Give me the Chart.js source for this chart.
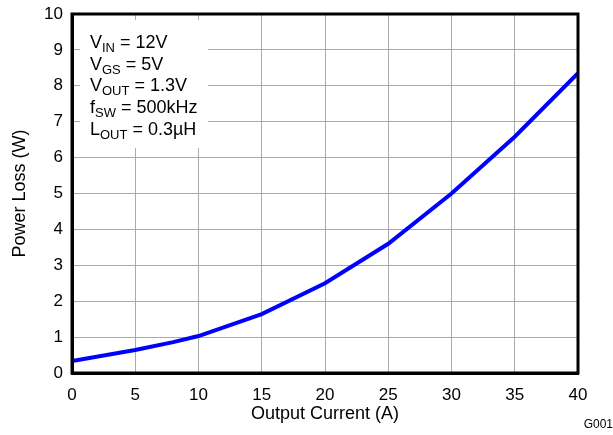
<!DOCTYPE html>
<html>
<head>
<meta charset="utf-8">
<script src="https://cdn.jsdelivr.net/npm/chart.js@4/dist/chart.umd.min.js"></script>
<style>
  body { margin: 0; background: #fff; }
  #wrap { width: 613px; height: 435px; }
</style>
</head>
<body>
<div id="wrap"><canvas id="loss-chart" width="613" height="435"></canvas></div>
<script>
// Data
const outputCurrent = [0, 5, 8, 10, 15, 20, 25, 30, 35, 40];
const powerLoss = [0.33, 0.64, 0.86, 1.03, 1.64, 2.5, 3.6, 5.0, 6.58, 8.35];
const xTicks = { min: 0, max: 40, step: 5 };
const yTicks = { min: 0, max: 10, step: 1 };

// Conditions box: [main, subscript, rest]
const conditions = [
    ["V", "IN", " = 12V"],
    ["V", "GS", " = 5V"],
    ["V", "OUT", " = 1.3V"],
    ["f", "SW", " = 500kHz"],
    ["L", "OUT", " = 0.3\u00B5H"]
];

const FONT = '"Liberation Sans", Arial, sans-serif';

// Frame, conditions box and graph id
const extras = {
    id: "extras",
    afterDatasetsDraw(chart) {
        const ctx = chart.ctx;
        const a = chart.chartArea;
        ctx.save();
        // white box behind the conditions
        ctx.fillStyle = "#fff";
        ctx.fillRect(a.left + 8, a.top + 6, 128, 128);
        ctx.fillStyle = "#000";
        ctx.textBaseline = "alphabetic";
        let y = a.top + 34;
        conditions.forEach(function(c) {
            let x = a.left + 18;
            ctx.font = "18px " + FONT;
            ctx.fillText(c[0], x, y);
            x += ctx.measureText(c[0]).width;
            ctx.font = "13px " + FONT;
            ctx.fillText(c[1], x, y + 4);
            x += ctx.measureText(c[1]).width;
            ctx.font = "18px " + FONT;
            ctx.fillText(c[2], x, y);
            y += 21.7;
        });
        // frame
        ctx.strokeStyle = "#000";
        ctx.lineWidth = 3;
        ctx.strokeRect(a.left, a.top, a.right - a.left, a.bottom - a.top);
        // graph id
        ctx.font = "12px " + FONT;
        ctx.textAlign = "right";
        ctx.fillText("G001", 613, 428);
        ctx.restore();
    }
};

const ctx = document.getElementById("loss-chart").getContext("2d");
const lossChart = new Chart(ctx, {
    type: "line",
    data: {
        datasets: [{
            label: "Power Loss",
            data: outputCurrent.map((c, i) => ({ x: c, y: powerLoss[i] })),
            borderColor: "#0000ff",
            borderWidth: 4,
            pointRadius: 0,
            tension: 0,
            fill: false
        }]
    },
    options: {
        responsive: false,
        animation: false,
        layout: { padding: { top: 14, right: 35, left: 0, bottom: 0 } },
        plugins: {
            legend: { display: false },
            tooltip: { enabled: false }
        },
        scales: {
            x: {
                type: "linear",
                min: xTicks.min,
                max: xTicks.max,
                afterFit(scale) {
                    scale.height = 62;
                    scale.paddingLeft = 0;
                    scale.paddingRight = 0;
                },
                ticks: {
                    stepSize: xTicks.step,
                    color: "#000",
                    padding: 12,
                    maxRotation: 0,
                    font: { family: FONT, size: 17 }
                },
                grid: { color: "#aaaaaa", lineWidth: 1, drawTicks: false },
                border: { color: "#000", width: 3 },
                title: {
                    display: true,
                    text: "Output Current (A)",
                    color: "#000",
                    font: { family: FONT, size: 18 },
                    padding: { top: 0, bottom: 10 }
                }
            },
            y: {
                min: yTicks.min,
                max: yTicks.max,
                afterFit(scale) {
                    scale.width = 72;
                    scale.paddingTop = 0;
                    scale.paddingBottom = 0;
                },
                ticks: {
                    stepSize: yTicks.step,
                    color: "#000",
                    padding: 9,
                    font: { family: FONT, size: 17 }
                },
                grid: { color: "#aaaaaa", lineWidth: 1, drawTicks: false },
                border: { color: "#000", width: 3 },
                title: {
                    display: true,
                    text: "Power Loss (W)",
                    color: "#000",
                    font: { family: FONT, size: 18 },
                    padding: { top: 9, bottom: 0 }
                }
            }
        }
    },
    plugins: [extras]
});
</script>
</body>
</html>
